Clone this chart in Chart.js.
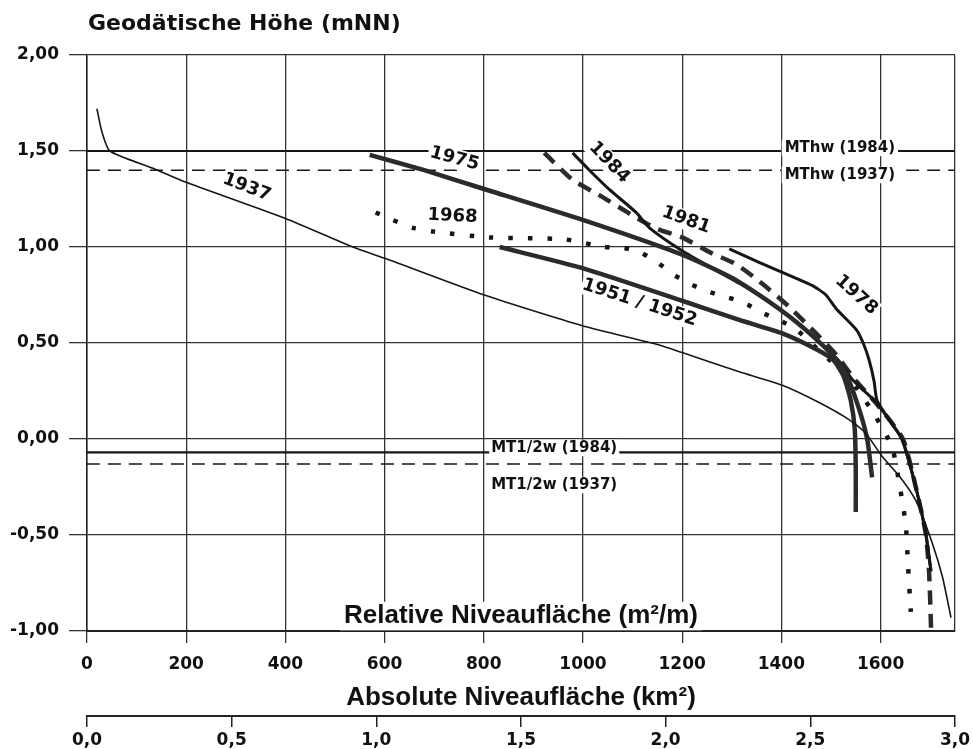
<!DOCTYPE html>
<html>
<head>
<meta charset="utf-8">
<script src="https://cdn.jsdelivr.net/npm/chart.js@4.4.0/dist/chart.umd.min.js"></script>
<style>
  html, body { margin: 0; padding: 0; background: #fff; }
</style>
</head>
<body>
<canvas id="chart" width="973" height="749"></canvas>
<script>
// Achsen
const relTicks = [0, 200, 400, 600, 800, 1000, 1200, 1400, 1600, 1750];
const absTicks = [0, 0.5, 1.0, 1.5, 2.0, 2.5, 3.0];
const hoehenTicks = [-1, -0.5, 0, 0.5, 1, 1.5, 2];

// Kurven [rel. Niveaufläche m²/m, Höhe mNN]
const kurve1937 = [[20,1.72],[30,1.60],[46,1.50],[133,1.41],[197,1.34],[399,1.15],[536,1.00],[602,0.94],[801,0.75],[999,0.59],[1154,0.49],[1200,0.45],[1315,0.35],[1402,0.28],[1476,0.19],[1537,0.10],[1570,0.03],[1603,-0.09],[1640,-0.20],[1671,-0.32],[1704,-0.54],[1725,-0.72],[1742,-0.93]];
const kurve1951 = [[832,1.00],[999,0.89],[1200,0.72],[1315,0.62],[1402,0.55],[1476,0.46],[1505,0.41],[1525,0.33],[1540,0.20],[1548,0.05],[1550,-0.15],[1550,-0.38]];
const kurve1968 = [[582,1.18],[617,1.14],[657,1.10],[700,1.08],[811,1.05],[962,1.04],[1043,1.00],[1083,0.995],[1117,0.97],[1150,0.92],[1180,0.86],[1214,0.81],[1250,0.77],[1288,0.74],[1325,0.71],[1359,0.66],[1395,0.62],[1430,0.57],[1460,0.50],[1510,0.38],[1550,0.27],[1587,0.13],[1623,-0.04],[1639,-0.25],[1651,-0.45],[1655,-0.64],[1661,-0.90]];
const kurve1975 = [[570,1.48],[680,1.40],[791,1.31],[1001,1.14],[1200,0.96],[1300,0.84],[1361,0.74],[1420,0.63],[1470,0.52],[1505,0.43],[1530,0.34],[1555,0.17],[1573,0.00],[1583,-0.20]];
const kurve1978 = [[1295,0.99],[1355,0.92],[1462,0.80],[1490,0.75],[1510,0.68],[1551,0.57],[1565,0.50],[1577,0.41],[1587,0.30],[1593,0.20],[1620,0.09],[1643,0.00],[1671,-0.25],[1691,-0.49],[1700,-0.66]];
const kurve1981 = [[922,1.49],[979,1.35],[1033,1.27],[1090,1.18],[1144,1.10],[1200,1.05],[1258,0.97],[1309,0.91],[1361,0.81],[1415,0.69],[1470,0.55],[1510,0.44],[1548,0.31],[1593,0.18],[1645,0.00],[1671,-0.25],[1691,-0.49],[1698,-0.70],[1702,-1.00]];
const kurve1984 = [[979,1.49],[1013,1.40],[1053,1.30],[1107,1.18],[1134,1.10],[1200,0.98],[1260,0.89],[1329,0.79],[1395,0.68],[1450,0.57],[1490,0.47],[1515,0.41],[1543,0.31],[1591,0.19],[1643,0.00],[1671,-0.25],[1691,-0.49],[1702,-0.69]];

// Wasserstände
const mthw1984 = 1.50;
const mthw1937 = 1.40;
const mt12w1984 = -0.07;
const mt12w1937 = -0.13;

const pts = arr => arr.map(([x, y]) => ({ x, y }));
const waagerecht = y => [{ x: 0, y }, { x: 1750, y }];

const datasets = [
  { data: pts(kurve1937), borderWidth: 1.6 },
  { data: pts(kurve1951), borderWidth: 4.5, borderColor: '#2b2b2b' },
  { data: pts(kurve1975), borderWidth: 4.5, borderColor: '#2b2b2b' },
  { data: pts(kurve1984), borderWidth: 3 },
  { data: pts(kurve1978), borderWidth: 3 },
  { data: pts(kurve1981), borderWidth: 4.5, borderDash: [14, 9], borderColor: '#2b2b2b' },
  { data: pts(kurve1968), borderWidth: 4.5, borderDash: [4.5, 15] },
  { data: waagerecht(mthw1984), borderWidth: 2.2 },
  { data: waagerecht(mthw1937), borderWidth: 1.5, borderDash: [13, 8] },
  { data: waagerecht(mt12w1984), borderWidth: 2.2 },
  { data: waagerecht(mt12w1937), borderWidth: 1.5, borderDash: [13, 8] }
].map(d => Object.assign({ showLine: true, pointRadius: 0, tension: 0.2, borderColor: '#161616', borderCapStyle: 'butt', fill: false }, d));

const tickFont = { family: 'DejaVu Sans', weight: 'bold', size: 17 };
const komma = (v, n) => v.toFixed(n).replace('.', ',');

// Beschriftungen im Diagramm
const beschriftung = {
  id: 'beschriftung',
  afterDraw(chart) {
    const { ctx, chartArea, scales } = chart;
    const px = v => scales.x.getPixelForValue(v);
    const py = v => scales.y.getPixelForValue(v);
    const text = (t, x, y, rot, font, pad) => {
      ctx.save();
      ctx.translate(x, y);
      ctx.rotate(rot * Math.PI / 180);
      ctx.font = font;
      const w = ctx.measureText(t).width;
      const h = parseInt(font.match(/(\d+)px/)[1], 10);
      ctx.fillStyle = '#fff';
      ctx.fillRect(-w / 2 - pad, -h * 0.55, w + 2 * pad, h * 1.1);
      ctx.fillStyle = '#111';
      ctx.textAlign = 'center';
      ctx.textBaseline = 'middle';
      ctx.fillText(t, 0, 0);
      ctx.restore();
    };
    const jahr = 'bold 18px "DejaVu Sans"';
    text('1937', px(322), py(1.31), 21, jahr, 1);
    text('1975', px(741), py(1.46), 15, jahr, 2);
    text('1968', px(737), py(1.16), 3, jahr, 1);
    text('1984', px(1053), py(1.44), 46, jahr, 2);
    text('1981', px(1208), py(1.14), 20, jahr, 1);
    text('1951 / 1952', px(1114), py(0.71), 18, jahr, 1);
    text('1978', px(1551), py(0.75), 42, jahr, 1);

    const klein = 'bold 15px "DejaVu Sans"';
    text('MThw (1984)', px(1518), py(1.516), 0, klein, 3);
    text('MThw (1937)', px(1518), py(1.375), 0, klein, 3);
    text('MT1/2w (1984)', px(942), py(-0.047), 0, klein, 2);
    text('MT1/2w (1937)', px(942), py(-0.24), 0, klein, 2);

    text('Relative Niveaufläche (m²/m)', (chartArea.left + chartArea.right) / 2, py(-0.922), 0,
      'bold 26px "Liberation Sans Narrow", "Liberation Sans"', 4);

    ctx.save();
    ctx.font = 'bold 22px "DejaVu Sans"';
    ctx.fillStyle = '#111';
    ctx.textAlign = 'left';
    ctx.textBaseline = 'middle';
    ctx.fillText('Geodätische Höhe (mNN)', chartArea.left + 1, 24);
    ctx.restore();
  }
};

new Chart(document.getElementById('chart'), {
  type: 'scatter',
  data: { datasets },
  options: {
    responsive: false,
    animation: false,
    layout: { padding: { left: 0, right: 17, top: 55, bottom: 0 } },
    plugins: { legend: { display: false }, tooltip: { enabled: false } },
    scales: {
      x: {
        type: 'linear', position: 'bottom', min: 0, max: 1750,
        afterBuildTicks: s => { s.ticks = relTicks.map(v => ({ value: v })); },
        afterFit: s => { s.height = 85; },
        grid: {
          color: '#333', lineWidth: 1.3, tickLength: 12,
          tickColor: c => (c.tick && c.tick.value > 1700) ? 'rgba(0,0,0,0)' : '#333'
        },
        border: { color: '#222', width: 2 },
        ticks: {
          font: tickFont, color: '#111', padding: 11, maxRotation: 0, autoSkip: false,
          callback: v => v > 1700 ? '' : String(v)
        },
        title: {
          display: true, text: 'Absolute Niveaufläche (km²)', color: '#111',
          font: { family: '"Liberation Sans Narrow", "Liberation Sans"', weight: 'bold', size: 26 },
          padding: { top: 0, bottom: 3 }
        }
      },
      x2: {
        type: 'linear', position: 'bottom', min: 0, max: 3,
        afterBuildTicks: s => { s.ticks = absTicks.map(v => ({ value: v })); },
        afterFit: s => { s.height = 33; },
        grid: { drawOnChartArea: false, tickLength: 11, color: '#222', lineWidth: 1.5 },
        border: { color: '#222', width: 2 },
        ticks: {
          font: tickFont, color: '#111', padding: 3, maxRotation: 0, autoSkip: false,
          callback: v => komma(v, 1)
        }
      },
      y: {
        type: 'linear', min: -1, max: 2,
        afterBuildTicks: s => { s.ticks = hoehenTicks.map(v => ({ value: v })); },
        afterFit: s => { s.width = 87; },
        grid: { color: '#333', lineWidth: 1.3, tickLength: 18 },
        border: { color: '#222', width: 1.5 },
        ticks: { font: tickFont, color: '#111', padding: 10, callback: v => komma(v, 2) }
      }
    }
  },
  plugins: [beschriftung]
});
</script>
</body>
</html>
